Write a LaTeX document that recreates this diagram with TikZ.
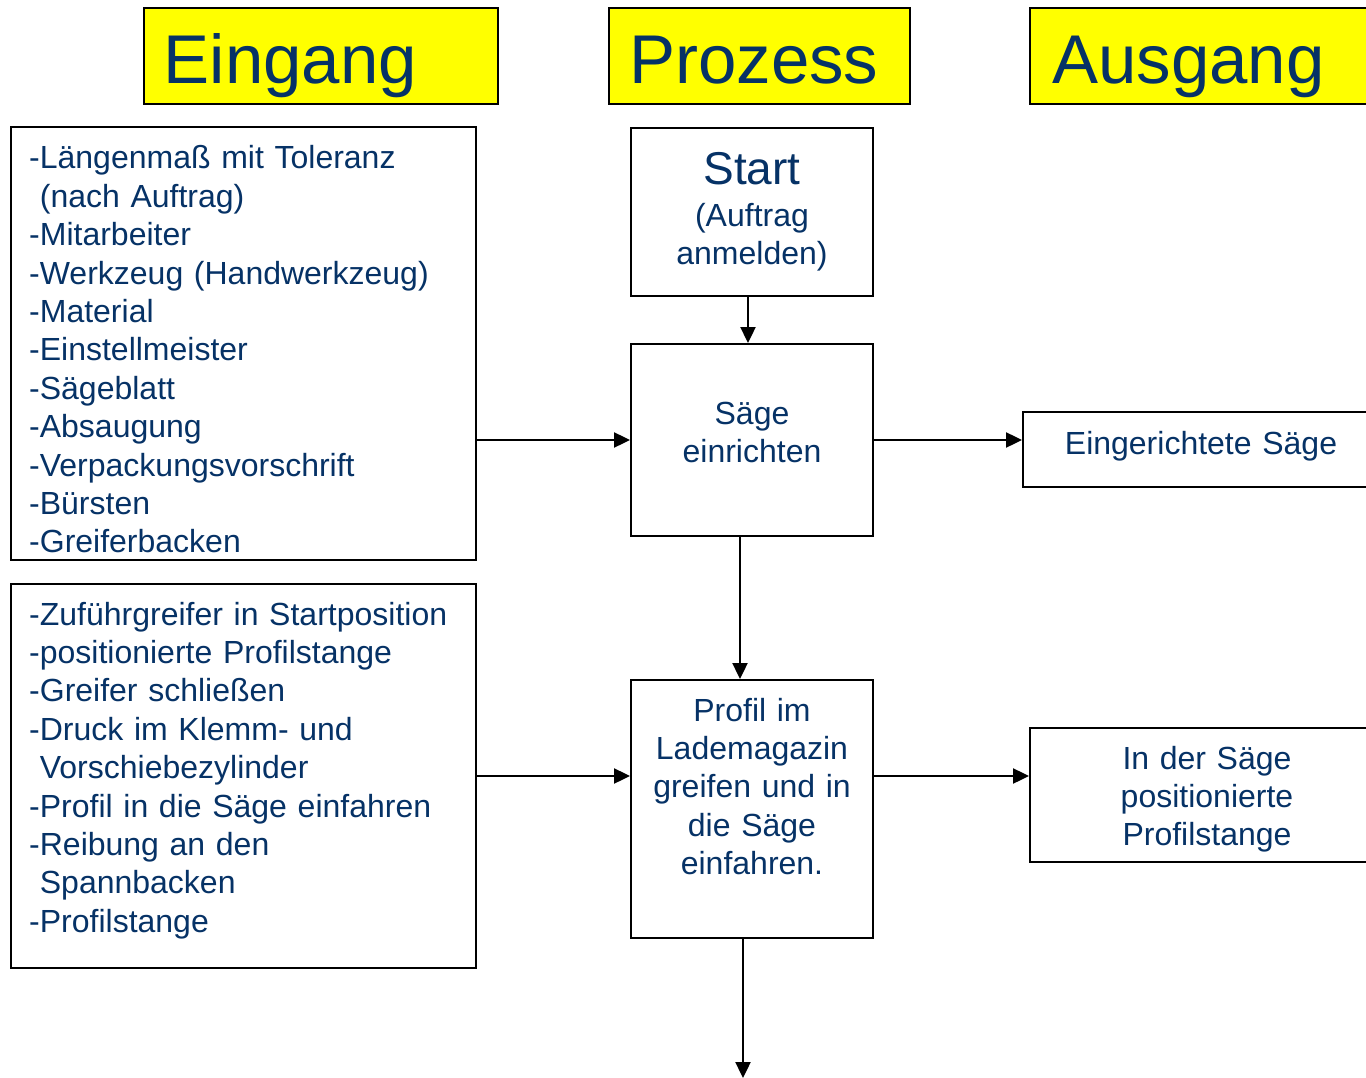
\documentclass[tikz,border=0pt]{standalone}
\usepackage{fontspec}
\setmainfont{Liberation Sans}
\usepackage{xcolor}
\usetikzlibrary{arrows.meta}
\definecolor{navy}{RGB}{6,50,102}
\definecolor{titleyellow}{RGB}{255,255,0}
\newcommand{\tightspace}{\spaceskip=0.22em\relax}

\begin{document}
\begin{tikzpicture}[
        x=1pt, y=-1pt,
        box/.style={rectangle, draw, line width=2pt, inner sep=0pt},
        titlebox/.style={box, fill=titleyellow, minimum height=96pt},
        heading/.style={anchor=base west, inner sep=0pt, text=navy, font=\fontsize{69}{72}\selectfont},
        listtext/.style={anchor=base west, inner sep=0pt, text=navy, text width=445pt, align=left, font=\fontsize{32}{38.4}\selectfont\tightspace},
        boxtext/.style={anchor=base, inner sep=0pt, text=navy, text width=240pt, align=center, font=\fontsize{32}{38.4}\selectfont\tightspace},
        arrow/.style={-{Triangle[length=16pt,width=15pt]}, line width=2.4pt}
    ]
        \useasboundingbox (0,0) rectangle (1366,1078);

        % headings
        \node[titlebox, minimum width=354pt] (eingang) at (321,56) {};
        \node[titlebox, minimum width=301pt] (prozess) at (759.5,56) {};
        \node[titlebox, minimum width=354pt] (ausgang) at (1207,56) {};
        \node[heading] (eingangtext) at (163.5,84) {Eingang};
        \node[heading] (prozesstext) at (629,84) {Prozess};
        \node[heading] (ausgangtext) at (1052,84) {Ausgang};

        % boxes
        \node[box, minimum width=465pt, minimum height=433pt] (in1) at (243.5,343.5) {};
        \node[box, minimum width=465pt, minimum height=384pt] (in2) at (243.5,776) {};
        \node[box, minimum width=242pt, minimum height=168pt] (start) at (752,212) {};
        \node[box, minimum width=242pt, minimum height=192pt] (saege) at (752,440) {};
        \node[box, minimum width=242pt, minimum height=258pt] (profil) at (752,809) {};
        \node[box, minimum width=356pt, minimum height=75pt] (out1) at (1201,449.5) {};
        \node[box, minimum width=354pt, minimum height=134pt] (out2) at (1207,795) {};

        % texts
        \node[listtext] (in1text) at (29,169) {-Längenmaß mit Toleranz\\~(nach Auftrag)\\-Mitarbeiter\\-Werkzeug (Handwerkzeug)\\-Material\\-Einstellmeister\\-Sägeblatt\\-Absaugung\\-Verpackungsvorschrift\\-Bürsten\\-Greiferbacken};
        \node[listtext] (in2text) at (29,625) {-Zuführgreifer in Startposition\\-positionierte Profilstange\\-Greifer schließen\\-Druck im Klemm- und\\~Vorschiebezylinder\\-Profil in die Säge einfahren\\-Reibung an den\\~Spannbacken\\-Profilstange};
        \node[boxtext] (starttext) at (752,185) {{\fontsize{46}{46}\selectfont Start}\\[3pt](Auftrag\\anmelden)};
        \node[boxtext] (saegetext) at (752,424) {Säge\\einrichten};
        \node[boxtext] (profiltext) at (752,721) {Profil im\\Lademagazin\\greifen und in\\die Säge\\einfahren.};
        \node[boxtext, text width=340pt] (out1text) at (1201,454) {Eingerichtete Säge};
        \node[boxtext, text width=340pt] (out2text) at (1207,769) {In der Säge\\positionierte\\Profilstange};

        % connectors
        \coordinate (row1) at (0,440);
        \coordinate (row2) at (0,776);
        \coordinate (next) at (743,1078);
        \draw[arrow] ([xshift=-4pt]start.south) -- ([xshift=-4pt]saege.north);
        \draw[arrow] ([xshift=-12pt]saege.south) -- ([xshift=-12pt]profil.north);
        \draw[arrow] (profil.south -| next) -- (next);
        \draw[arrow] (in1.east |- row1) -- (saege.west);
        \draw[arrow] (saege.east) -- (out1.west |- row1);
        \draw[arrow] (in2.east) -- (profil.west |- row2);
        \draw[arrow] (profil.east |- row2) -- (out2.west |- row2);
    \end{tikzpicture}
\end{document}
